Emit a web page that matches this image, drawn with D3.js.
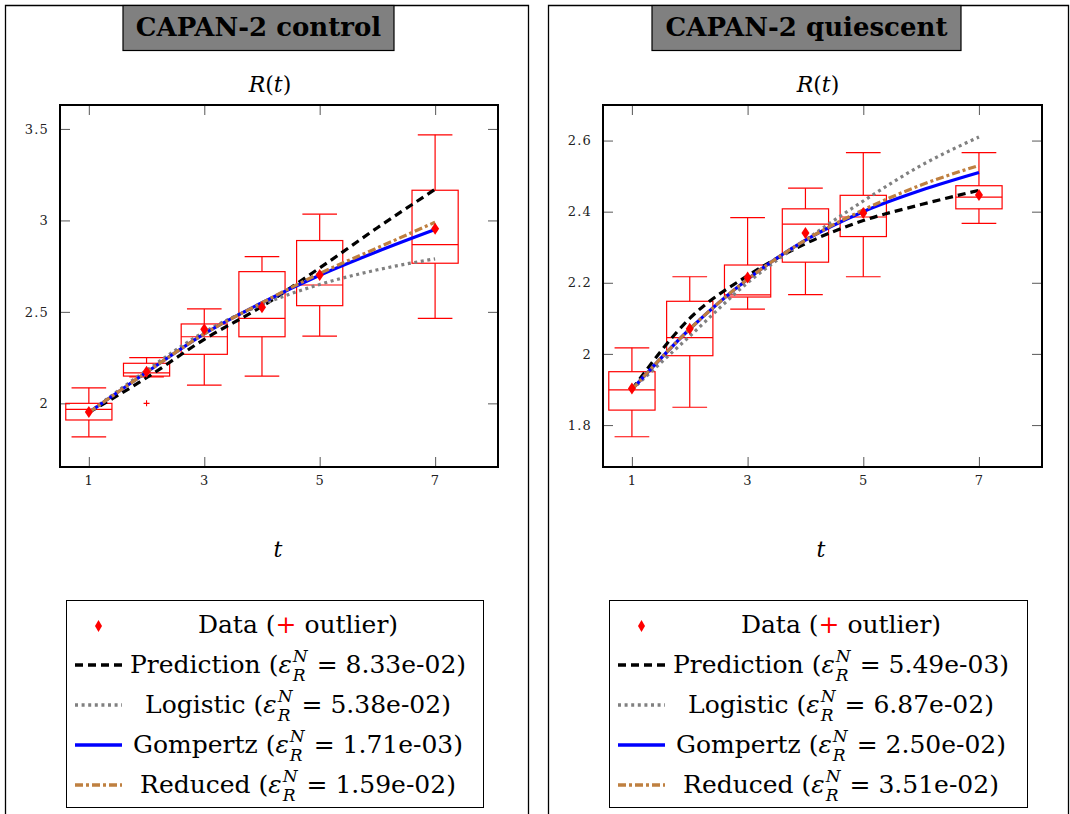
<!DOCTYPE html>
<html><head><meta charset="utf-8">
<script src="https://cdn.jsdelivr.net/npm/d3@7"></script>
<style>
body{margin:0;background:#fff}
svg{display:block}
svg text{font-family:"DejaVu Serif","Liberation Serif",serif !important;white-space:pre}
</style>
</head><body>
<svg id="chart" width="1070" height="814"></svg>
<script>
// ---------------- data ----------------
const timePoints = [1, 2, 3, 4, 5, 6, 7];
const boxTimes = [1, 2, 3, 4, 5, 7];
const xTicks = [1, 3, 5, 7];
const seriesNames = ["Prediction", "Logistic", "Gompertz", "Reduced"];

// CAPAN-2 control
const controlWhiskerLow  = [1.817, 2.145, 2.100, 2.149, 2.368, 2.465];
const controlQ1          = [1.909, 2.149, 2.268, 2.364, 2.534, 2.766];
const controlMedian      = [1.967, 2.167, 2.364, 2.465, 2.647, 2.868];
const controlQ3          = [2.000, 2.219, 2.434, 2.720, 2.890, 3.165];
const controlWhiskerHigh = [2.085, 2.250, 2.516, 2.802, 3.034, 3.468];
const controlMean        = [1.952, 2.173, 2.405, 2.525, 2.702, 2.954];
const controlOutlierT    = [2];
const controlOutlierV    = [2.0];
const controlPrediction  = [1.95, 2.14, 2.35, 2.53, 2.74, 2.96, 3.17];
const controlLogistic    = [1.95, 2.18, 2.39, 2.54, 2.65, 2.73, 2.79];
const controlGompertz    = [1.95, 2.17, 2.38, 2.55, 2.70, 2.83, 2.95];
const controlReduced     = [1.95, 2.17, 2.38, 2.55, 2.71, 2.85, 2.99];
const controlYTicks      = [2, 2.5, 3, 3.5];
const controlErrors      = ["8.33e-02", "5.38e-02", "1.71e-03", "1.59e-02"];

// CAPAN-2 quiescent
const quiescentWhiskerLow  = [1.767, 1.850, 2.126, 2.167, 2.217, 2.367];
const quiescentQ1          = [1.842, 1.995, 2.160, 2.258, 2.330, 2.408];
const quiescentMedian      = [1.899, 2.046, 2.166, 2.365, 2.385, 2.441];
const quiescentQ3          = [1.950, 2.148, 2.250, 2.408, 2.446, 2.473];
const quiescentWhiskerHigh = [2.017, 2.217, 2.383, 2.466, 2.566, 2.566];
const quiescentMean        = [1.903, 2.071, 2.215, 2.340, 2.396, 2.447];
const quiescentOutlierT    = [];
const quiescentOutlierV    = [];
const quiescentPrediction  = [1.90, 2.10, 2.22, 2.31, 2.375, 2.42, 2.46];
const quiescentLogistic    = [1.90, 2.05, 2.20, 2.32, 2.43, 2.53, 2.61];
const quiescentGompertz    = [1.90, 2.07, 2.21, 2.32, 2.40, 2.46, 2.51];
const quiescentReduced     = [1.90, 2.07, 2.21, 2.32, 2.405, 2.475, 2.53];
const quiescentYTicks      = [1.8, 2, 2.2, 2.4, 2.6];
const quiescentErrors      = ["5.49e-03", "6.87e-02", "2.50e-02", "3.51e-02"];

// ---------------- styles ----------------
const lineStyles = [
  {color: "#000000", width: 3.2, dash: "8,5"},
  {color: "#808080", width: 3.2, dash: "3,3.6"},
  {color: "#0000ff", width: 3.2, dash: null},
  {color: "#bf8040", width: 3.2, dash: "8,3,3,3"}
];

const panels = [
  {
    title: "CAPAN-2 control",
    border: [5.5, 528.5], titleBox: [123, 394], labelX: 270, tX: 278,
    plot: {x0: 60, x1: 498, y0: 105, y1: 467}, yDomain: [1.652, 3.631],
    yTicks: controlYTicks,
    box: {wl: controlWhiskerLow, q1: controlQ1, med: controlMedian, q3: controlQ3, wh: controlWhiskerHigh, mean: controlMean},
    outT: controlOutlierT, outV: controlOutlierV,
    curves: [controlPrediction, controlLogistic, controlGompertz, controlReduced],
    errors: controlErrors,
    legend: {x0: 66, x1: 483}
  },
  {
    title: "CAPAN-2 quiescent",
    border: [548.5, 1068.5], titleBox: [652, 961], labelX: 818, tX: 821,
    plot: {x0: 603, x1: 1042, y0: 105, y1: 467}, yDomain: [1.682, 2.70],
    yTicks: quiescentYTicks,
    box: {wl: quiescentWhiskerLow, q1: quiescentQ1, med: quiescentMedian, q3: quiescentQ3, wh: quiescentWhiskerHigh, mean: quiescentMean},
    outT: quiescentOutlierT, outV: quiescentOutlierV,
    curves: [quiescentPrediction, quiescentLogistic, quiescentGompertz, quiescentReduced],
    errors: quiescentErrors,
    legend: {x0: 609, x1: 1027}
  }
];

const svg = d3.select("#chart");
const SERIF = "'DejaVu Serif','Liberation Serif',serif";
const diamondPath = "M0,-6L4,0L0,6L-4,0Z";

function drawPanel(p) {
  const g = svg.append("g").attr("font-family", SERIF);
  g.append("path")
    .attr("d", `M${p.border[0]},830V5.5H${p.border[1]}V830`)
    .attr("fill", "none").attr("stroke", "#000").attr("stroke-width", 1.3);

  g.append("rect")
    .attr("x", p.titleBox[0]).attr("y", 5.5)
    .attr("width", p.titleBox[1] - p.titleBox[0]).attr("height", 45)
    .attr("fill", "#808080").attr("stroke", "#000").attr("stroke-width", 1.2);
  g.append("text")
    .attr("x", (p.titleBox[0] + p.titleBox[1]) / 2).attr("y", 36)
    .attr("text-anchor", "middle").attr("font-size", 26).attr("font-weight", "bold")
    .text(p.title);

  const rl = g.append("text").attr("x", p.labelX).attr("y", 92)
    .attr("text-anchor", "middle").attr("font-size", 22);
  rl.append("tspan").attr("font-style", "italic").text("R");
  rl.append("tspan").text("(");
  rl.append("tspan").attr("font-style", "italic").text("t");
  rl.append("tspan").text(")");

  g.append("text").attr("x", p.tX).attr("y", 557)
    .attr("text-anchor", "middle").attr("font-size", 22).attr("font-style", "italic").text("t");

  const pl = p.plot;
  const x = d3.scaleLinear().domain([0.5, 8.09]).range([pl.x0, pl.x1]);
  const y = d3.scaleLinear().domain(p.yDomain).range([pl.y1, pl.y0]);

  const styleAxis = sel => {
    sel.attr("font-family", SERIF);
    sel.select(".domain").remove();
    sel.selectAll(".tick line").attr("stroke", "#666").attr("stroke-width", 1.1);
    sel.selectAll(".tick text").attr("font-size", 13).attr("fill", "#222")
      .style("letter-spacing", "1.2px");
  };
  g.append("g").attr("transform", `translate(0,${pl.y1})`)
    .call(d3.axisBottom(x).tickValues(xTicks).tickSize(-10).tickPadding(9).tickFormat(d3.format("d")))
    .call(styleAxis);
  g.append("g").attr("transform", `translate(0,${pl.y0})`)
    .call(d3.axisTop(x).tickValues(xTicks).tickSize(-10).tickFormat(""))
    .call(styleAxis);
  g.append("g").attr("transform", `translate(${pl.x0},0)`)
    .call(d3.axisLeft(y).tickValues(p.yTicks).tickSize(-10).tickPadding(11).tickFormat(d => String(d)))
    .call(styleAxis);
  g.append("g").attr("transform", `translate(${pl.x1},0)`)
    .call(d3.axisRight(y).tickValues(p.yTicks).tickSize(-10).tickFormat(""))
    .call(styleAxis);

  const bx = g.append("g").attr("stroke", "#ff0000").attr("stroke-width", 1.2).attr("fill", "none");
  boxTimes.forEach((t, i) => {
    const b = p.box;
    bx.append("line").attr("x1", x(t)).attr("x2", x(t)).attr("y1", y(b.wl[i])).attr("y2", y(b.q1[i]));
    bx.append("line").attr("x1", x(t)).attr("x2", x(t)).attr("y1", y(b.q3[i])).attr("y2", y(b.wh[i]));
    bx.append("line").attr("x1", x(t - 0.3)).attr("x2", x(t + 0.3)).attr("y1", y(b.wl[i])).attr("y2", y(b.wl[i]));
    bx.append("line").attr("x1", x(t - 0.3)).attr("x2", x(t + 0.3)).attr("y1", y(b.wh[i])).attr("y2", y(b.wh[i]));
    bx.append("rect").attr("x", x(t - 0.4)).attr("width", x(t + 0.4) - x(t - 0.4))
      .attr("y", y(b.q3[i])).attr("height", y(b.q1[i]) - y(b.q3[i]));
    bx.append("line").attr("x1", x(t - 0.4)).attr("x2", x(t + 0.4)).attr("y1", y(b.med[i])).attr("y2", y(b.med[i]));
  });
  p.outT.forEach((t, i) => {
    g.append("path").attr("transform", `translate(${x(t)},${y(p.outV[i])})`)
      .attr("d", "M-3,0H3M0,-3V3").attr("stroke", "#ff0000").attr("stroke-width", 1.1);
  });

  const line = d3.line().x((d, i) => x(timePoints[i])).y(d => y(d)).curve(d3.curveMonotoneX);
  p.curves.forEach((c, k) => {
    const s = lineStyles[k];
    g.append("path").datum(c).attr("d", line).attr("fill", "none")
      .attr("stroke", s.color).attr("stroke-width", s.width)
      .attr("stroke-dasharray", s.dash);
  });

  g.selectAll(null).data(p.box.mean).join("path")
    .attr("transform", (d, i) => `translate(${x(boxTimes[i])},${y(d)})`)
    .attr("d", diamondPath).attr("fill", "#ff0000");

  g.append("rect").attr("x", pl.x0).attr("y", pl.y0)
    .attr("width", pl.x1 - pl.x0).attr("height", pl.y1 - pl.y0)
    .attr("fill", "none").attr("stroke", "#000").attr("stroke-width", 2);

  const L = p.legend;
  const lg = g.append("g");
  lg.append("rect").attr("x", L.x0 + 0.5).attr("y", 600.5).attr("width", L.x1 - L.x0).attr("height", 207)
    .attr("fill", "#fff").attr("stroke", "#000").attr("stroke-width", 1);
  const rowY = d3.range(5).map(i => 626 + 40 * i);
  const sx0 = L.x0 + 9, sx1 = L.x0 + 56, cx = L.x0 + 232, fs = 25;
  lg.append("path").attr("transform", `translate(${(sx0 + sx1) / 2},${rowY[0]})`)
    .attr("d", "M0,-6L3.5,0L0,6L-3.5,0Z").attr("fill", "#ff0000");
  const dt = lg.append("text").attr("x", cx).attr("y", rowY[0] + 7).attr("text-anchor", "middle").attr("font-size", fs);
  dt.append("tspan").text("Data (");
  dt.append("tspan").attr("fill", "#ff0000").attr("font-weight", "300").text("+");
  dt.append("tspan").text(" outlier)");
  seriesNames.forEach((name, k) => {
    const s = lineStyles[k];
    const yy = rowY[k + 1];
    lg.append("line").attr("x1", sx0).attr("x2", sx1).attr("y1", yy - 1).attr("y2", yy - 1)
      .attr("stroke", s.color).attr("stroke-width", 3.5).attr("stroke-dasharray", s.dash);
    const row = lg.append("g");
    const base = yy + 7;
    const t1 = row.append("text").attr("x", 0).attr("y", base).attr("font-size", fs).text(name + " (");
    const w1 = t1.node().getComputedTextLength();
    const e = row.append("text").attr("x", w1).attr("y", base).attr("font-size", fs).attr("font-style", "italic").text("ε");
    const w2 = e.node().getComputedTextLength();
    const sup = row.append("text").attr("x", w1 + w2 + 1).attr("y", base - 11).attr("font-size", 17).attr("font-style", "italic").text("N");
    const sub = row.append("text").attr("x", w1 + w2 + 1).attr("y", base + 8).attr("font-size", 17).attr("font-style", "italic").text("R");
    const w3 = Math.max(sup.node().getComputedTextLength(), sub.node().getComputedTextLength()) + 2;
    const t4 = row.append("text").attr("x", w1 + w2 + w3).attr("y", base).attr("font-size", fs).text(" = " + p.errors[k] + ")");
    const total = w1 + w2 + w3 + t4.node().getComputedTextLength();
    row.attr("transform", `translate(${cx - total / 2},0)`);
  });
}

panels.forEach(drawPanel);
</script>
</body></html>
